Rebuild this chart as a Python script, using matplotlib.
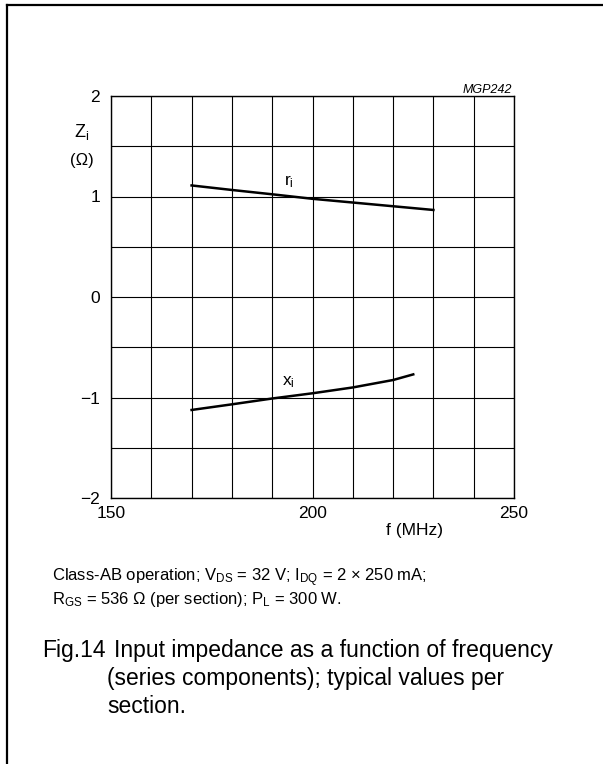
import matplotlib
matplotlib.use('Agg')
import matplotlib.pyplot as plt
from matplotlib.lines import Line2D
from matplotlib.ticker import MultipleLocator

plt.rcParams['font.family'] = ['Liberation Sans', 'DejaVu Sans']
plt.rcParams['mathtext.fontset'] = 'custom'
plt.rcParams['mathtext.rm'] = 'Liberation Sans'
plt.rcParams['mathtext.it'] = 'Liberation Sans:italic'

# valores
freq_r = [170, 180, 190, 200, 210, 220, 230]
r_i = [1.11, 1.065, 1.022, 0.977, 0.94, 0.903, 0.866]
freq_x = [170, 180, 190, 200, 210, 220, 225]
x_i = [-1.124, -1.068, -1.01, -0.958, -0.90, -0.826, -0.77]

x_ticks = [150, 200, 250]
y_ticks = [-2, -1, 0, 1, 2]

W, H = 603, 764
fig = plt.figure(figsize=(W / 100, H / 100), dpi=100)


def px(x, y):
    return x / W, 1 - y / H


# marco de la pagina
fig.add_artist(Line2D([7 / W, 1], [1 - 5 / H, 1 - 5 / H], color='black', lw=1.6))
fig.add_artist(Line2D([7 / W, 7 / W], [1 - 5 / H, 0], color='black', lw=1.6))

ax = fig.add_axes([111 / W, 1 - 498 / H, 403 / W, 402 / H])
ax.set_xlim(150, 250)
ax.set_ylim(-2, 2)
ax.set_xticks(x_ticks)
ax.set_yticks(y_ticks)
ax.xaxis.set_minor_locator(MultipleLocator(10))
ax.yaxis.set_minor_locator(MultipleLocator(0.5))
ax.grid(True, which='both', color='black', lw=0.8)
ax.tick_params(which='both', length=0, labelsize=12.5)
ax.tick_params(axis='x', pad=6)
ax.tick_params(axis='y', pad=8)
for s in ax.spines.values():
    s.set_linewidth(1.0)

ax.plot(freq_r, r_i, color='black', lw=1.8)
ax.plot(freq_x, x_i, color='black', lw=1.8)

ax.text(192.9, 1.114, r'r$_\mathrm{i}$', fontsize=12.5, ha='left', va='baseline')
ax.text(192.5, -0.876, r'x$_\mathrm{i}$', fontsize=12.5, ha='left', va='baseline')

fig.text(*px(82, 137), r'Z$_\mathrm{i}$', fontsize=13, ha='center', va='baseline')
fig.text(*px(82, 160), '(Ω)', fontsize=12, ha='center', va='center')
fig.text(*px(415, 530), 'f (MHz)', fontsize=12.5, ha='center', va='center')
fig.text(*px(512, 93), 'MGP242', fontsize=9, style='italic', ha='right', va='baseline')

fig.text(*px(52, 581),
         r'Class-AB operation; V$_\mathrm{DS}$ = 32 V; I$_\mathrm{DQ}$ = 2 × 250 mA;',
         fontsize=12, ha='left', va='baseline')
fig.text(*px(52, 604),
         r'R$_\mathrm{GS}$ = 536 Ω (per section); P$_\mathrm{L}$ = 300 W.',
         fontsize=12, ha='left', va='baseline')

fig.text(*px(42, 657), 'Fig.14', fontsize=16.5, ha='left', va='baseline')
fig.text(*px(114, 657), 'Input impedance as a function of frequency',
         fontsize=16.5, ha='left', va='baseline')
fig.text(*px(107, 685), '(series components); typical values per',
         fontsize=16.5, ha='left', va='baseline')
fig.text(*px(107, 713), 'section.', fontsize=16.5, ha='left', va='baseline')

fig.savefig('out.png', dpi=100, facecolor='white')
